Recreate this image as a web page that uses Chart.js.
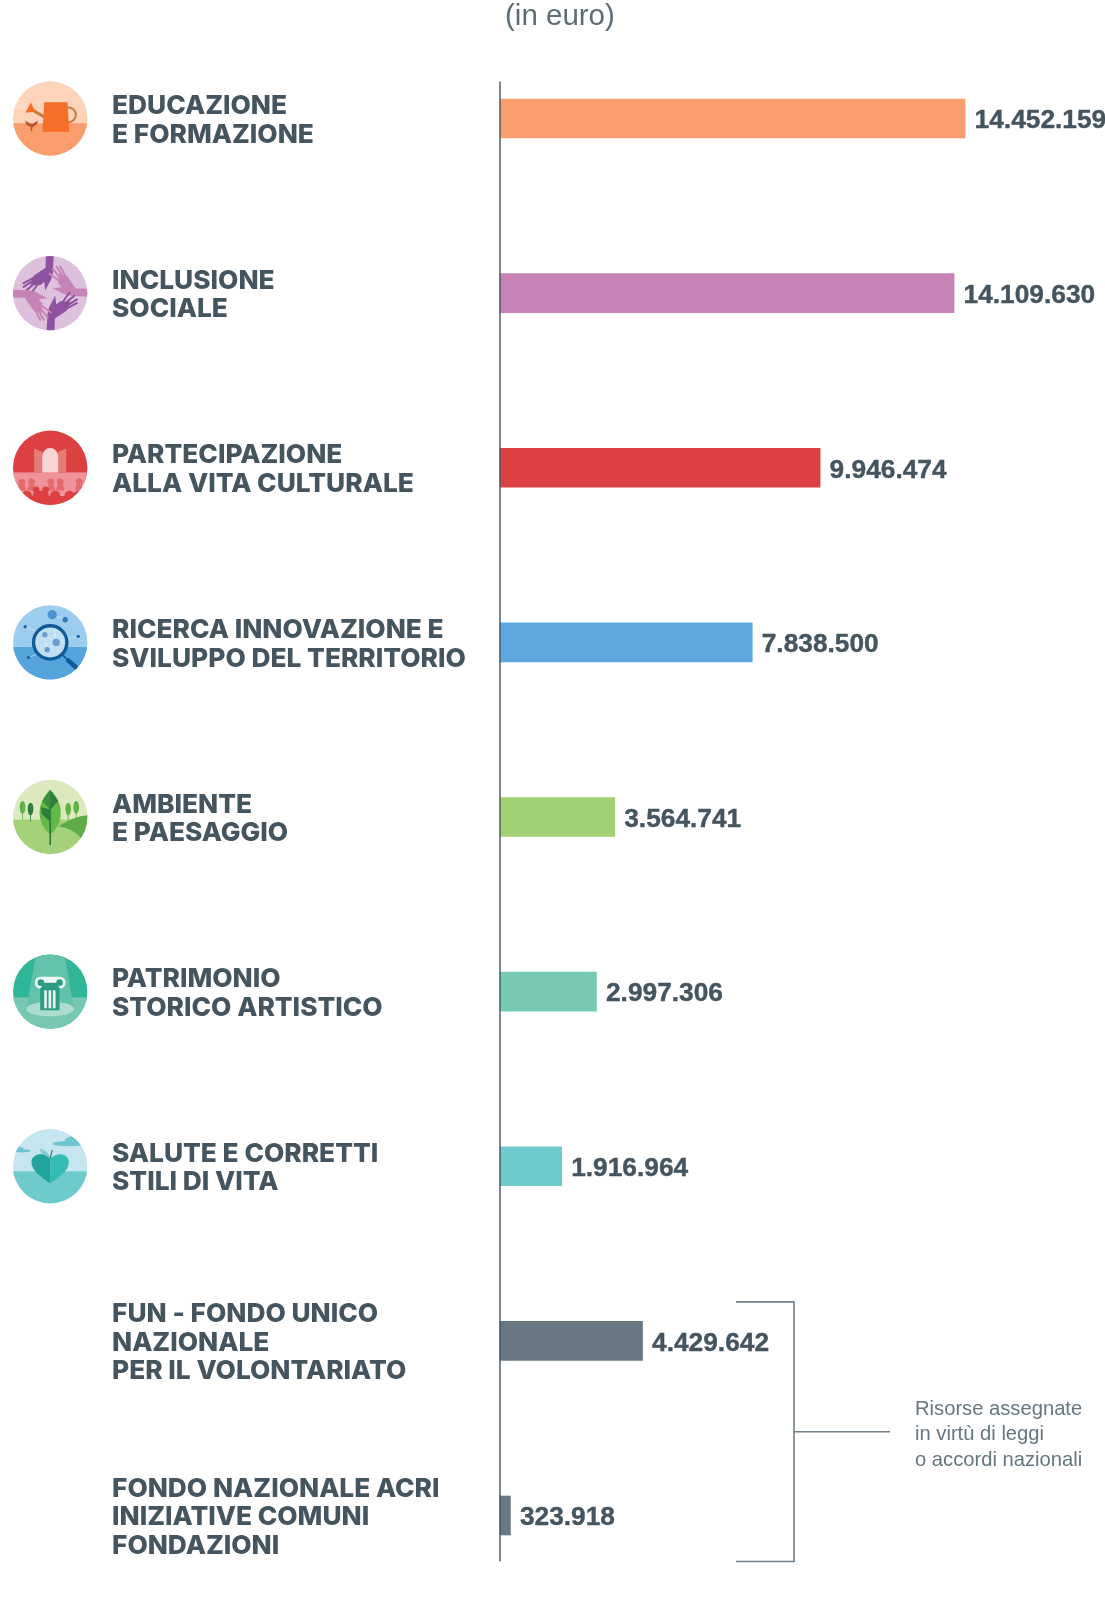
<!DOCTYPE html>
<html lang="it">
<head>
<meta charset="utf-8">
<title>Risorse per settore (in euro)</title>
<script src="https://cdn.jsdelivr.net/npm/chart.js@4"></script>
<style>
html,body{margin:0;padding:0;background:#fff;overflow:hidden}
#wrap{width:1105px;height:1600px}
canvas{display:block}
</style>
</head>
<body>
<div id="wrap"><canvas id="c" width="1105" height="1600"></canvas></div>
<script>
const categories = [
  ["EDUCAZIONE", "E FORMAZIONE"],
  ["INCLUSIONE", "SOCIALE"],
  ["PARTECIPAZIONE", "ALLA VITA CULTURALE"],
  ["RICERCA INNOVAZIONE E", "SVILUPPO DEL TERRITORIO"],
  ["AMBIENTE", "E PAESAGGIO"],
  ["PATRIMONIO", "STORICO ARTISTICO"],
  ["SALUTE E CORRETTI", "STILI DI VITA"],
  ["FUN - FONDO UNICO", "NAZIONALE", "PER IL VOLONTARIATO"],
  ["FONDO NAZIONALE ACRI", "INIZIATIVE COMUNI", "FONDAZIONI"]
];
const values = [14452159, 14109630, 9946474, 7838500, 3564741, 2997306, 1916964, 4429642, 323918];
const valueLabels = ["14.452.159", "14.109.630", "9.946.474", "7.838.500", "3.564.741", "2.997.306", "1.916.964", "4.429.642", "323.918"];
const barColors = ["#F99D6C", "#C783B5", "#DD4040", "#5CA8DE", "#A2D173", "#77C8B2", "#6FCBCB", "#687882", "#687882"];
const unitLabel = "(in euro)";
const noteLines = ["Risorse assegnate", "in virtù di leggi", "o accordi nazionali"];

const INK = "#44555F";
const FONT = '"Liberation Sans", Arial, sans-serif';

/* icon helpers: coordinates are in 3x units relative to the icon centre */
function poly(ctx, pts, col) {
  ctx.fillStyle = col; ctx.beginPath();
  pts.forEach((q, i) => i ? ctx.lineTo(q[0], q[1]) : ctx.moveTo(q[0], q[1]));
  ctx.closePath(); ctx.fill();
}
function dot(ctx, x, y, r, col) {
  ctx.fillStyle = col; ctx.beginPath(); ctx.arc(x, y, r, 0, Math.PI * 2); ctx.fill();
}
function oval(ctx, x, y, rx, ry, col) {
  ctx.fillStyle = col; ctx.beginPath(); ctx.ellipse(x, y, rx, ry, 0, 0, Math.PI * 2); ctx.fill();
}
function seg(ctx, pts, col, w) {
  ctx.strokeStyle = col; ctx.lineWidth = w; ctx.lineCap = "round"; ctx.lineJoin = "round"; ctx.beginPath();
  pts.forEach((q, i) => i ? ctx.lineTo(q[0], q[1]) : ctx.moveTo(q[0], q[1]));
  ctx.stroke();
}
function ground(ctx, top, bottom, y) {
  ctx.fillStyle = top; ctx.fillRect(-115, -115, 230, 230);
  ctx.fillStyle = bottom; ctx.fillRect(-115, y, 230, 230);
}

const iconPainters = [
  function (ctx) { // watering can
    ground(ctx, "#FDD3B9", "#F99D6C", 14);
    [[-100, -56, -70, -40], [-104, -46, -72, -32], [-106, -36, -74, -26]].forEach(l => seg(ctx, [[l[0], l[1]], [l[2], l[3]]], "#FEEBDD", 2.5));
    seg(ctx, [[-20, -6], [-58, -28]], "#C87A3F", 9);
    poly(ctx, [[-58, -48], [-75, -17], [-45, -20]], "#F76E28");
    ctx.strokeStyle = "#C87A3F"; ctx.lineWidth = 6; ctx.beginPath(); ctx.arc(55, -11, 22, -Math.PI / 2, Math.PI / 2); ctx.stroke();
    poly(ctx, [[-18, -49], [52, -49], [57, 40], [-23, 40]], "#F76E28");
    seg(ctx, [[-56, 36], [-56, 18]], "#B9552A", 4);
    poly(ctx, [[-75, 6], [-56, 18], [-56, 28], [-72, 18]], "#B9552A");
    poly(ctx, [[-37, 6], [-56, 18], [-56, 28], [-40, 18]], "#B9552A");
  },
  function (ctx) { // hands
    ctx.fillStyle = "#DDC0DC"; ctx.fillRect(-115, -115, 230, 230);
    for (let k = 0; k < 4; k++) {
      const col = k % 2 ? "#C783B5" : "#8E52A1";
      ctx.save(); ctx.rotate(k * Math.PI / 2);
      poly(ctx, [[-13, -115], [11, -115], [8, -62], [3, -42], [-15, -8], [-18, -34], [-30, -24], [-60, -26], [-50, -52], [-14, -76]], col);
      [[-50, -46, -80, -30], [-50, -38, -80, -19], [-46, -30, -72, -8], [-38, -26, -58, 2]].forEach(l => seg(ctx, [[l[0], l[1]], [l[2], l[3]]], col, 6));
      ctx.restore();
    }
  },
  function (ctx) { // theatre
    ground(ctx, "#DD4040", "#F0939A", 14);
    poly(ctx, [[-48, -58], [-24, -48], [-24, 14], [-48, 14]], "#E47A7A");
    poly(ctx, [[48, -58], [24, -48], [24, 14], [48, 14]], "#E47A7A");
    ctx.fillStyle = "#F8D5D3"; ctx.beginPath(); ctx.moveTo(-24, 14); ctx.lineTo(-24, -35); ctx.arc(0, -35, 24, Math.PI, 0); ctx.lineTo(24, 14); ctx.closePath(); ctx.fill();
    [[-85, 44], [-56, 42], [2, 42], [30, 42], [87, 42]].forEach(h => {
      dot(ctx, h[0], h[1], 10, "#E56A6E");
      poly(ctx, [[h[0] - 13, h[1] + 26], [h[0] - 8, h[1] + 8], [h[0] + 8, h[1] + 8], [h[0] + 13, h[1] + 26]], "#E56A6E");
    });
    [[-42, 66], [-14, 66]].forEach(h => {
      dot(ctx, h[0], h[1], 10, "#DD4040");
      poly(ctx, [[h[0] - 12, h[1] + 24], [h[0] - 8, h[1] + 8], [h[0] + 8, h[1] + 8], [h[0] + 12, h[1] + 24]], "#DD4040");
    });
    ctx.fillStyle = "#DD4040"; ctx.fillRect(-115, 85, 230, 40);
    [-70, -28, 15, 58, 85].forEach(x => dot(ctx, x, 84, 15, "#DD4040"));
  },
  function (ctx) { // magnifier
    ground(ctx, "#9CCDEF", "#55A4DC", 14);
    [[6, -83, 45, -68], [-75, -47, -30, -28], [84, -18, 40, -5], [-65, 45, -15, 25]].forEach(l => seg(ctx, [[l[0], l[1]], [l[2], l[3]]], "#D5EAF8", 2));
    dot(ctx, 6, -83, 14, "#4A93D0"); dot(ctx, 45, -68, 8, "#2E76B8");
    dot(ctx, -75, -47, 5, "#1E63A4"); dot(ctx, 84, -18, 5, "#1E63A4"); dot(ctx, -65, 45, 5, "#1E63A4");
    dot(ctx, 0, 0, 50, "#BFE0F3");
    [[-16, -23, 18, 0], [18, 0, -9, 22], [-16, -23, -9, 22], [12, -45, 18, 0]].forEach(l => seg(ctx, [[l[0], l[1]], [l[2], l[3]]], "#EAF5FB", 2));
    dot(ctx, -16, -23, 8, "#6B9BCF"); dot(ctx, 18, 0, 11, "#6B9BCF"); dot(ctx, -9, 22, 8, "#6B9BCF");
    ctx.strokeStyle = "#0F5A99"; ctx.lineWidth = 10; ctx.beginPath(); ctx.arc(0, 0, 50, 0, Math.PI * 2); ctx.stroke();
    seg(ctx, [[38, 38], [50, 50]], "#0F5A99", 5);
    ctx.lineCap = "butt"; seg(ctx, [[54, 54], [76, 74]], "#0F5A99", 14);
  },
  function (ctx) { // leaf and landscape
    ground(ctx, "#DCE9BF", "#A4D17A", 8);
    ctx.fillStyle = "#5FAB47"; ctx.beginPath(); ctx.moveTo(25, 28); ctx.quadraticCurveTo(70, -2, 115, -6); ctx.lineTo(115, 70); ctx.lineTo(95, 65); ctx.quadraticCurveTo(70, 35, 25, 28); ctx.fill();
    [[-83, -29, "#5FB146"], [-59, -24, "#2E7D3A"], [54, -24, "#5FB146"], [78, -29, "#5FB146"]].forEach(t => {
      seg(ctx, [[t[0], t[1]], [t[0], t[1] + 36]], t[2], 2.5);
      oval(ctx, t[0], t[1], 8.5, 19, t[2]);
    });
    ctx.fillStyle = "#63B946"; ctx.beginPath(); ctx.moveTo(0, -82); ctx.bezierCurveTo(45, -40, 40, 20, 0, 52); ctx.bezierCurveTo(-40, 20, -45, -40, 0, -82); ctx.fill();
    poly(ctx, [[0, -82], [-24, -48], [0, -22]], "#3D8F3F");
    poly(ctx, [[0, -82], [24, -48], [0, -22]], "#2E7D3A");
    poly(ctx, [[0, -22], [-27, -30], [-26, -10], [0, 14]], "#2E7D3A");
    seg(ctx, [[0, -40], [0, 82]], "#2E7D3A", 5);
  },
  function (ctx) { // column
    ground(ctx, "#2FB597", "#76C8B2", 17);
    poly(ctx, [[-42, -115], [42, -115], [72, 52], [-72, 52]], "#63C2AC");
    oval(ctx, 0, 52, 72, 22, "#AEDDD0");
    ctx.fillStyle = "#F0F8F5"; ctx.beginPath(); ctx.roundRect(-46, -45, 92, 36, 17); ctx.fill();
    ctx.fillStyle = "#2C9C84"; ctx.beginPath(); ctx.moveTo(-18, -27); ctx.lineTo(18, -27); ctx.lineTo(30, -8); ctx.lineTo(-30, -8); ctx.closePath(); ctx.fill();
    dot(ctx, -28, -27, 10, "#2C9C84"); dot(ctx, 28, -27, 10, "#2C9C84");
    ctx.fillStyle = "#2C9C84"; ctx.fillRect(-30, -10, 58, 66);
    ctx.fillStyle = "#E6F4F0"; [-18, -5, 8].forEach(x => ctx.fillRect(x, -4, 8, 54));
  },
  function (ctx) { // heart apple
    ground(ctx, "#C5E6EF", "#6FCBCB", 15);
    oval(ctx, 55, -68, 48, 8, "#6FC4CE"); oval(ctx, 68, -78, 24, 11, "#6FC4CE");
    oval(ctx, -85, -46, 26, 5, "#6FC4CE"); oval(ctx, -92, -52, 12, 6, "#6FC4CE");
    ctx.fillStyle = "#7FD0D3"; ctx.beginPath(); ctx.moveTo(2, -22); ctx.quadraticCurveTo(-8, -48, -32, -54); ctx.quadraticCurveTo(-28, -28, 2, -22); ctx.fill();
    ctx.fillStyle = "#21A49E"; ctx.beginPath(); ctx.moveTo(0, 52); ctx.bezierCurveTo(-30, 30, -58, 12, -56, -14); ctx.bezierCurveTo(-54, -40, -18, -44, 0, -22); ctx.closePath(); ctx.fill();
    ctx.fillStyle = "#35BDB5"; ctx.beginPath(); ctx.moveTo(0, 52); ctx.bezierCurveTo(30, 30, 58, 12, 56, -14); ctx.bezierCurveTo(54, -40, 18, -44, 0, -22); ctx.closePath(); ctx.fill();
    seg(ctx, [[0, -24], [6, -48]], "#2B5C5F", 3);
  }
];

const paintPlugin = {
  id: "paint",
  afterDatasetsDraw(chart) {
    const ctx = chart.ctx;
    const meta = chart.getDatasetMeta(0);
    const yS = chart.scales.y;
    const base = chart.scales.x.getPixelForValue(0);

    // vertical baseline
    ctx.save();
    ctx.strokeStyle = INK; ctx.lineWidth = 1.4;
    ctx.beginPath();
    ctx.moveTo(base, yS.getPixelForValue(0) - 37);
    ctx.lineTo(base, yS.getPixelForValue(values.length - 1) + 46);
    ctx.stroke();

    // unit caption
    ctx.fillStyle = "#5C6D78"; ctx.font = "29.5px " + FONT;
    ctx.textAlign = "left"; ctx.textBaseline = "middle";
    ctx.fillText(unitLabel, 505, 17);

    // value labels
    ctx.fillStyle = INK; ctx.strokeStyle = INK; ctx.lineWidth = 0.4; ctx.font = "bold 26.3px " + FONT;
    meta.data.forEach((bar, i) => {
      ctx.fillText(valueLabels[i], bar.x + 9.5, bar.y + 2.5);
      ctx.strokeText(valueLabels[i], bar.x + 9.5, bar.y + 2.5);
    });

    // icons
    iconPainters.forEach((draw, i) => {
      ctx.save();
      ctx.translate(50.2, yS.getPixelForValue(i));
      ctx.beginPath(); ctx.arc(0, 0, 37.2, 0, Math.PI * 2); ctx.clip();
      ctx.scale(1 / 3, 1 / 3);
      draw(ctx);
      ctx.restore();
    });

    // bracket and note
    const top = yS.getPixelForValue(7) - 39, bottom = yS.getPixelForValue(8) + 46, mid = (top + bottom) / 2;
    ctx.strokeStyle = "#6F7F89"; ctx.lineWidth = 1.6;
    ctx.beginPath();
    ctx.moveTo(736, top); ctx.lineTo(794, top); ctx.lineTo(794, bottom); ctx.lineTo(736, bottom);
    ctx.moveTo(794, mid); ctx.lineTo(890, mid);
    ctx.stroke();
    ctx.fillStyle = "#66767F"; ctx.font = "20.2px " + FONT;
    noteLines.forEach((t, i) => ctx.fillText(t, 915, mid - 22.5 + i * 25.5));
    ctx.restore();
  }
};

new Chart(document.getElementById("c"), {
  type: "bar",
  plugins: [paintPlugin],
  data: {
    labels: categories,
    datasets: [{
      data: values,
      backgroundColor: barColors,
      barThickness: 39,
      borderWidth: 0,
      clip: false
    }]
  },
  options: {
    indexAxis: "y",
    responsive: false,
    animation: false,
    layout: { padding: { top: 118.5, bottom: 84.5, left: 112, right: 0 } },
    plugins: { legend: { display: false }, tooltip: { enabled: false }, title: { display: false } },
    scales: {
      x: { display: false, min: 0, max: 18800000 },
      y: {
        offset: false,
        grid: { display: false, drawTicks: false },
        border: { display: false },
        afterFit(s) { s.width = 388; },
        ticks: {
          autoSkip: false,
          crossAlign: "far",
          color: INK,
          padding: 0,
          labelOffset: 2,
          font: { family: "Inter, " + FONT, size: 26.3, weight: "800", lineHeight: "28.5px" }
        }
      }
    }
  }
});
</script>
</body>
</html>
